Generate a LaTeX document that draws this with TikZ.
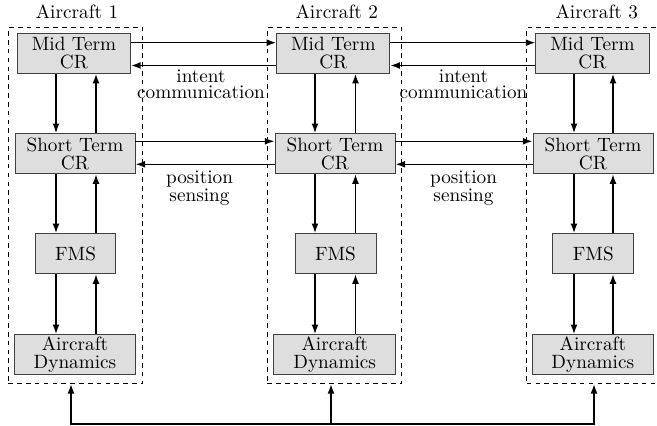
\documentclass[tikz,border=0pt]{standalone}
\usetikzlibrary{arrows.meta}
\begin{document}
\begin{tikzpicture}[x=0.52pt,y=-0.52pt]
\tikzset{
  blk/.style={draw=black!75, line width=0.5pt, fill=black!13, inner sep=0pt,
    minimum height=20.8pt, align=center, font=\fontsize{10pt}{9.5pt}\selectfont},
  arr/.style={line width=0.8pt, -{Latex[length=5pt,width=3.6pt]}},
  grp/.style={draw, line width=0.5pt, dash pattern=on 2.4pt off 2.2pt,
    minimum width=69.9pt, minimum height=185pt, inner sep=0pt},
  lbl/.style={align=center, inner sep=0pt, anchor=north,
    font=\fontsize{10pt}{8.5pt}\selectfont},
  ttl/.style={anchor=base, inner sep=0pt}
}
\useasboundingbox (0,0) rectangle (657,426);
% aircraft groups
\node[grp] (g1) at (75.5,205.6) {};
\node[grp] (g2) at (334.5,205.6) {};
\node[grp] (g3) at (594,205.6) {};
\node[ttl] (t1) at (77,19) {Aircraft 1};
\node[ttl] (t2) at (336.7,19) {Aircraft 2};
\node[ttl] (t3) at (596.7,19) {Aircraft 3};
% blocks
\node[blk, minimum width=58.8pt] (m1) at (74,53.3) {Mid Term\\CR};
\node[blk, minimum width=58.8pt] (m2) at (333.3,53.3) {Mid Term\\CR};
\node[blk, minimum width=58.8pt] (m3) at (592.5,53.3) {Mid Term\\CR};
\node[blk, minimum width=62.4pt] (s1) at (75,153.7) {Short Term\\CR};
\node[blk, minimum width=62.4pt] (s2) at (335,153.7) {Short Term\\CR};
\node[blk, minimum width=62.4pt] (s3) at (593,153.7) {Short Term\\CR};
\node[blk, minimum width=42.1pt] (f1) at (75.5,253.7) {FMS};
\node[blk, minimum width=42.1pt] (f2) at (335.5,253.7) {FMS};
\node[blk, minimum width=42.1pt] (f3) at (593.3,253.7) {FMS};
\node[blk, minimum width=63.2pt] (d1) at (75,354.7) {Aircraft\\Dynamics};
\node[blk, minimum width=63.2pt] (d2) at (334.7,354.7) {Aircraft\\Dynamics};
\node[blk, minimum width=63.2pt] (d3) at (592.8,354.7) {Aircraft\\Dynamics};
% vertical arrows
\foreach \c/\xd/\xu in {1/56/96, 2/315/355.5, 3/574/613} {
  \draw[arr] (m\c.south -| \xd,0) -- (s\c.north -| \xd,0);
  \draw[arr] (s\c.north -| \xu,0) -- (m\c.south -| \xu,0);
  \draw[arr] (s\c.south -| \xd,0) -- (f\c.north -| \xd,0);
  \draw[arr] (f\c.north -| \xu,0) -- (s\c.south -| \xu,0);
  \draw[arr] (f\c.south -| \xd,0) -- (d\c.north -| \xd,0);
  \draw[arr] (d\c.north -| \xu,0) -- (f\c.south -| \xu,0);
}
% horizontal arrows
\foreach \a/\b in {1/2, 2/3} {
  \draw[arr] (m\a.east |- 0,42.7) -- (m\b.west |- 0,42.7);
  \draw[arr] (m\b.west |- 0,65.5) -- (m\a.east |- 0,65.5);
  \draw[arr] (s\a.east |- 0,141.3) -- (s\b.west |- 0,141.3);
  \draw[arr] (s\b.west |- 0,164.3) -- (s\a.east |- 0,164.3);
}
% labels
\node[lbl] (l1) at (201,69) {intent\\communication};
\node[lbl] (l2) at (463.5,69) {intent\\communication};
\node[lbl] (l3) at (199.5,170.3) {position\\sensing};
\node[lbl] (l4) at (463.5,170.3) {position\\sensing};
% bottom link
\coordinate (b1) at (71,424);
\coordinate (b2) at (331,424);
\coordinate (b3) at (594,424);
\draw[arr] (b3) -- (b1) -- (b1 |- g1.south);
\draw[arr] (b1) -- (b3) -- (b3 |- g3.south);
\draw[arr] (b2) -- (b2 |- g2.south);
\end{tikzpicture}
\end{document}
